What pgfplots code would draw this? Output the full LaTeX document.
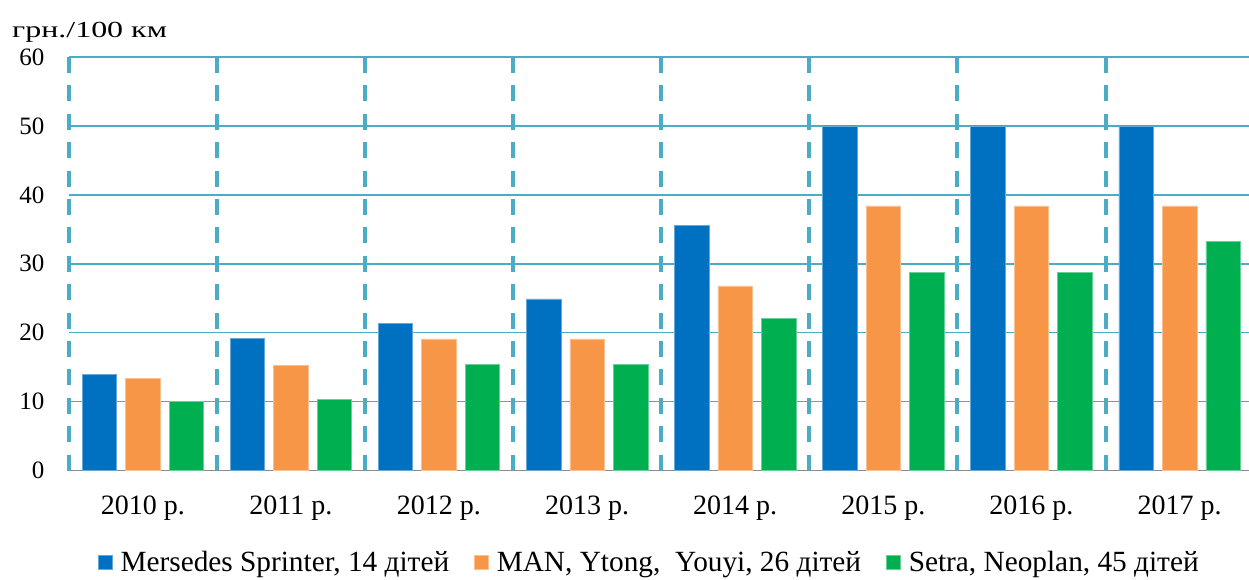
\documentclass[border=0pt]{standalone}
\usepackage{fontspec}
\setmainfont{Liberation Serif}
\usepackage{graphicx}
\usepackage{pgfplots}
\pgfplotsset{compat=1.18}
\definecolor{cblue}{HTML}{0070C0}
\definecolor{corange}{HTML}{F79646}
\definecolor{cgreen}{HTML}{00B050}
\definecolor{cgrid}{HTML}{4BACC6}
\begin{document}
\begin{tikzpicture}
\path[use as bounding box] (0,0) rectangle (1249pt,579pt);
\begin{axis}[
  at={(68.7pt,108.5pt)}, anchor=south west,
  scale only axis, width=1185pt, height=413.5pt,
  xmin=-0.5, xmax=7.5, ymin=0, ymax=60,
  ybar=9pt, bar width=34.5pt,
  axis line style={draw=none},
  xtick={0,...,7},
  xticklabels={2010 р.,2011 р.,2012 р.,2013 р.,2014 р.,2015 р.,2016 р.,2017 р.},
  minor xtick={-0.5,0.5,...,7.5},
  xminorgrids=true, ymajorgrids=true,
  ytick={10,20,...,60},
  extra y ticks={0}, extra y tick labels={0},
  extra y tick style={major grid style={color=black!45, line width=1.8pt}},
  major tick length=0pt, minor tick length=0pt,
  major grid style={color=cgrid, line width=1.6pt},
  minor grid style={color=cgrid, line width=4pt, dash pattern=on 16pt off 12.39pt},
  /pgf/number format/assume math mode=true,
  yticklabel style={font=\fontsize{25}{30}\selectfont, inner sep=0pt, xshift=-24pt},
  xticklabel style={font=\fontsize{28}{32}\selectfont, inner sep=0pt, yshift=-25pt},
  legend columns=3,
  legend style={at={(0.49,-0.221)}, anchor=center, draw=none,
    font=\fontsize{29.3}{32}\selectfont, inner sep=0pt,
    column sep=6pt,
    /tikz/every even column/.append style={column sep=23pt}},
  legend image code/.code={\fill[#1] (0pt,-7pt) rectangle (14pt,7pt);},
]
\addplot[fill=cblue, draw=cblue!60!white, line width=0.6pt] coordinates {(0,14) (1,19.2) (2,21.4) (3,24.9) (4,35.6) (5,50) (6,50) (7,50)};
\addplot[fill=corange, draw=corange!60!white, line width=0.6pt] coordinates {(0,13.4) (1,15.2) (2,19.1) (3,19.1) (4,26.8) (5,38.4) (6,38.4) (7,38.4)};
\addplot[fill=cgreen, draw=cgreen!60!white, line width=0.6pt] coordinates {(0,10) (1,10.3) (2,15.4) (3,15.4) (4,22.1) (5,28.8) (6,28.8) (7,33.2)};
\legend{{Mersedes Sprinter, 14 дітей}, {MAN, Ytong,\ \ Youyi, 26 дітей}, {Setra, Neoplan, 45 дітей}}
\end{axis}
\node[anchor=base west, inner sep=0pt, font=\fontsize{23}{28}\selectfont] at (12pt,541pt) {\scalebox{1.39}[1]{грн./100 км}};
\end{tikzpicture}
\end{document}
